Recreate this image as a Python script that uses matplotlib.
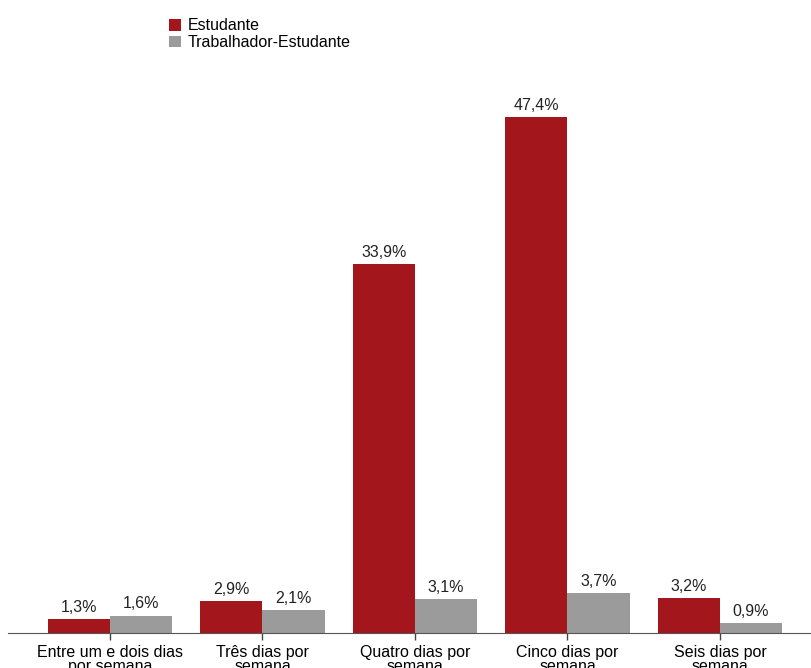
import numpy as np
import matplotlib.pyplot as plt

plt.rcParams['font.family'] = ['Liberation Sans', 'DejaVu Sans']

categories = ['Entre um e dois dias\npor semana', 'Três dias por\nsemana',
              'Quatro dias por\nsemana', 'Cinco dias por\nsemana',
              'Seis dias por\nsemana']
estudante = [1.3, 2.9, 33.9, 47.4, 3.2]
trab_estudante = [1.6, 2.1, 3.1, 3.7, 0.9]

red = '#A2161C'
grey = '#9B9B9B'

fig = plt.figure(figsize=(8.11, 6.68), dpi=100)
bottom = (668 - 633) / 668
ax = fig.add_axes([0.0, bottom, 1.0, 1 - bottom])

x = np.arange(len(categories))
w = 0.407
b1 = ax.bar(x - w / 2, estudante, w, color=red, label='Estudante')
b2 = ax.bar(x + w / 2, trab_estudante, w, color=grey, label='Trabalhador-Estudante')

for bars, vals in ((b1, estudante), (b2, trab_estudante)):
    for r, v in zip(bars, vals):
        ax.annotate(f'{v:.1f}%'.replace('.', ','),
                    (r.get_x() + r.get_width() / 2, v),
                    xytext=(0, 3), textcoords='offset points',
                    ha='center', va='bottom', fontsize=11.5, color='#222222')

ax.set_xlim(-0.721, 4.597)
ax.set_ylim(0, 58.15)
ax.set_xticks(x)
ax.set_xticklabels(categories, fontsize=11.5, linespacing=0.9)
ax.tick_params(axis='x', length=5, width=1, color='#444444', pad=3.5)
ax.set_yticks([])
for s in ('top', 'right', 'left'):
    ax.spines[s].set_visible(False)
ax.spines['bottom'].set_color('#555555')
ax.spines['bottom'].set_bounds(-0.67, 4.597)

fig.legend(handles=[b1, b2], loc='upper left', bbox_to_anchor=(163 / 811, 1 - 12 / 668),
           frameon=False, fontsize=11.5, handlelength=0.75, handleheight=0.75,
           handletextpad=0.4, labelspacing=0.1, borderaxespad=0)

fig.savefig('out.png', dpi=100)
